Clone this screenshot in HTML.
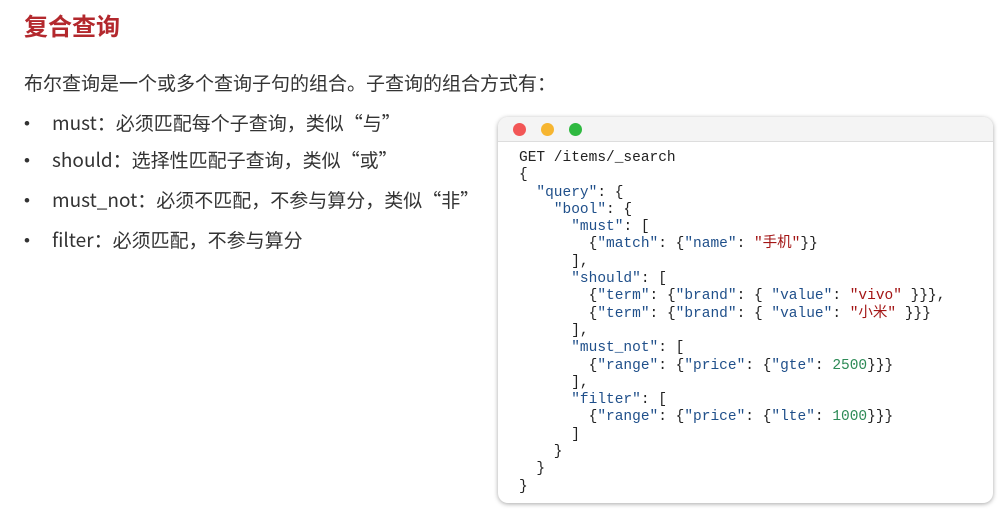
<!DOCTYPE html>
<html><head><meta charset="utf-8"><style>
body{margin:0;width:1006px;height:524px;background:#fff;position:relative;overflow:hidden;font-family:"Liberation Sans","Noto Sans CJK SC",sans-serif;color:#222}
.t{position:absolute;white-space:nowrap}
h1{position:absolute;left:24px;top:7px;margin:0;font-size:24px;font-weight:bold;color:#b3282d;font-family:"Liberation Sans","Noto Sans CJK SC",sans-serif}
.p{font-size:19px;line-height:24px;color:#333;font-family:"Noto Sans CJK SC",sans-serif}
.b{font-family:"Liberation Sans",sans-serif;font-size:17px}
.box{position:absolute;left:498px;top:117px;width:495px;height:386px;border-radius:10px;background:#fff;box-shadow:0 1px 5px rgba(0,0,0,.35);overflow:hidden}
.bar{height:24px;background:#f4f4f4;border-bottom:1px solid #ddd}
.dot{position:absolute;top:6px;width:13px;height:13px;border-radius:50%}
pre{position:absolute;left:21px;top:33px;margin:0;font-family:"Liberation Mono","Noto Sans CJK SC",monospace;font-size:14.5px;line-height:17.3px;color:#222}
.k{color:#1f4f8a}.s{color:#a31515}.n{color:#2e8b57}
</style></head><body>
<h1>复合查询</h1>
<div class="t p" style="left:24px;top:71px">布尔查询是一个或多个查询子句的组合。子查询的组合方式有：</div>
<div class="t p b" style="left:24px;top:112px">•</div><div class="t p" style="left:52px;top:111px">must：必须匹配每个子查询，类似“与”</div>
<div class="t p b" style="left:24px;top:149px">•</div><div class="t p" style="left:52px;top:148px">should：选择性匹配子查询，类似“或”</div>
<div class="t p b" style="left:24px;top:189px">•</div><div class="t p" style="left:52px;top:188px">must_not：必须不匹配，不参与算分，类似“非”</div>
<div class="t p b" style="left:24px;top:229px">•</div><div class="t p" style="left:52px;top:228px">filter：必须匹配，不参与算分</div>
<div class="box"><div class="bar"></div>
<div class="dot" style="left:15px;background:#f25656"></div>
<div class="dot" style="left:43px;background:#f6b530"></div>
<div class="dot" style="left:71px;background:#2fb940"></div>
<pre>GET /items/_search
{
  <span class="k">"query"</span>: {
    <span class="k">"bool"</span>: {
      <span class="k">"must"</span>: [
        {<span class="k">"match"</span>: {<span class="k">"name"</span>: <span class="s">"手机"</span>}}
      ],
      <span class="k">"should"</span>: [
        {<span class="k">"term"</span>: {<span class="k">"brand"</span>: { <span class="k">"value"</span>: <span class="s">"vivo"</span> }}},
        {<span class="k">"term"</span>: {<span class="k">"brand"</span>: { <span class="k">"value"</span>: <span class="s">"小米"</span> }}}
      ],
      <span class="k">"must_not"</span>: [
        {<span class="k">"range"</span>: {<span class="k">"price"</span>: {<span class="k">"gte"</span>: <span class="n">2500</span>}}}
      ],
      <span class="k">"filter"</span>: [
        {<span class="k">"range"</span>: {<span class="k">"price"</span>: {<span class="k">"lte"</span>: <span class="n">1000</span>}}}
      ]
    }
  }
}</pre>
</div>
</body></html>
